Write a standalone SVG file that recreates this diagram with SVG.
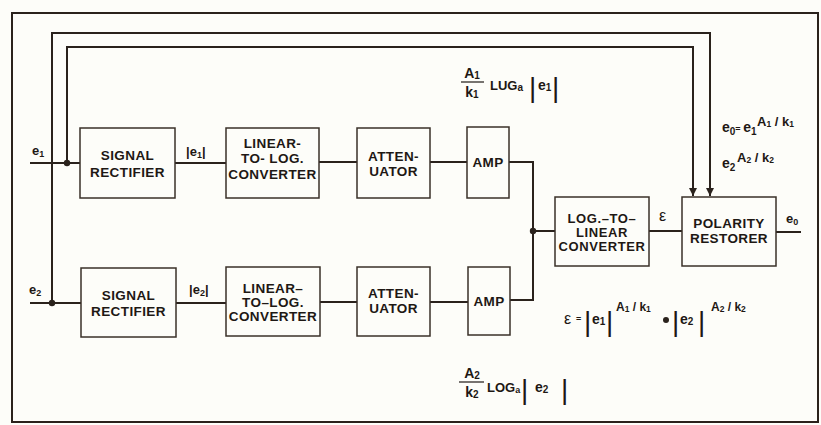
<svg xmlns="http://www.w3.org/2000/svg" width="821" height="425" viewBox="0 0 821 425">
<defs>
<style>
.bg{fill:#fdfdf9}
.frame{fill:none;stroke:#2a221c;stroke-width:2}
.box{fill:#fdfdf9;stroke:#3a3028;stroke-width:1.5}
.wire{fill:none;stroke:#2a221c;stroke-width:2}
.t{font-family:"Liberation Sans",Arial,sans-serif;font-weight:bold;font-size:13.5px;letter-spacing:0.4px;fill:#1e1814;text-anchor:middle}
.l{font-family:"Liberation Sans",Arial,sans-serif;font-weight:bold;font-size:13px;fill:#1e1814}
.s{font-size:9px}
.f{font-family:"Liberation Sans",Arial,sans-serif;font-weight:bold;font-size:14px;fill:#1e1814}
.fs{font-size:10px}
.sup{font-family:"Liberation Sans",Arial,sans-serif;font-weight:bold;font-size:12px;fill:#1e1814}
.ss{font-size:8.5px}
.bar{font-family:"Liberation Sans",Arial,sans-serif;font-weight:normal;font-size:28px;fill:#1e1814}
.dot{fill:#2a221c}
</style>
<marker id="arr" viewBox="0 0 10 10" refX="10" refY="5" markerWidth="8" markerHeight="8" markerUnits="userSpaceOnUse" orient="auto">
<path d="M0,0 L10,5 L0,10 Z" fill="#2a221c"/>
</marker>
</defs>
<rect class="bg" x="0" y="0" width="821" height="425"/>
<rect class="frame" x="12" y="13" width="806" height="409"/>

<g id="connectors">
<path class="wire" d="M30,163 H80"/>
<path class="wire" d="M67,163 V47 H693 V196" marker-end="url(#arr)"/>
<path class="wire" d="M30,303 H81"/>
<path class="wire" d="M52,303 V33 H710 V196" marker-end="url(#arr)"/>
<path class="wire" d="M175,163 H226"/>
<path class="wire" d="M319,162 H357"/>
<path class="wire" d="M430,162 H467"/>
<path class="wire" d="M176,303 H226"/>
<path class="wire" d="M320,302 H357"/>
<path class="wire" d="M430,302 H468"/>
<path class="wire" d="M509,162 H533 V300 H510"/>
<path class="wire" d="M533,231 H555"/>
<path class="wire" d="M649,231 H682"/>
<path class="wire" d="M776,232 H801"/>
<circle class="dot" cx="67" cy="163" r="3.2"/>
<circle class="dot" cx="52" cy="303" r="3.2"/>
<circle class="dot" cx="533" cy="231" r="3.2"/>
</g>

<g id="rect1">
<rect class="box" x="80" y="128" width="95" height="70"/>
<text class="t" x="127.5" y="160">SIGNAL</text>
<text class="t" x="127.5" y="177">RECTIFIER</text>
</g>
<g id="lin2log1">
<rect class="box" x="226" y="128" width="93" height="70"/>
<text class="t" x="272.5" y="148">LINEAR-</text>
<text class="t" x="272.5" y="163">TO- LOG.</text>
<text class="t" x="272.5" y="179">CONVERTER</text>
</g>
<g id="atten1">
<rect class="box" x="357" y="128" width="73" height="70"/>
<text class="t" x="393.5" y="161">ATTEN-</text>
<text class="t" x="393.5" y="176">UATOR</text>
</g>
<g id="amp1">
<rect class="box" x="467" y="127" width="42" height="71"/>
<text class="t" x="488" y="167">AMP</text>
</g>

<g id="rect2">
<rect class="box" x="81" y="268" width="95" height="69"/>
<text class="t" x="128.5" y="300">SIGNAL</text>
<text class="t" x="128.5" y="316">RECTIFIER</text>
</g>
<g id="lin2log2">
<rect class="box" x="226" y="267" width="94" height="69"/>
<text class="t" x="273" y="293">LINEAR–</text>
<text class="t" x="273" y="307">TO–LOG.</text>
<text class="t" x="273" y="321">CONVERTER</text>
</g>
<g id="atten2">
<rect class="box" x="357" y="267" width="73" height="69"/>
<text class="t" x="393.5" y="298">ATTEN-</text>
<text class="t" x="393.5" y="313">UATOR</text>
</g>
<g id="amp2">
<rect class="box" x="468" y="267" width="42" height="68"/>
<text class="t" x="489" y="306">AMP</text>
</g>

<g id="log2lin">
<rect class="box" x="555" y="197" width="94" height="69"/>
<text class="t" x="602" y="223" style="font-size:13px;letter-spacing:0.6px">LOG.–TO–</text>
<text class="t" x="602" y="237" style="font-size:13px;letter-spacing:0.6px">LINEAR</text>
<text class="t" x="602" y="251" style="font-size:13px;letter-spacing:0.6px">CONVERTER</text>
</g>
<g id="polarity">
<rect class="box" x="682" y="197" width="94" height="69"/>
<text class="t" x="729" y="228">POLARITY</text>
<text class="t" x="729" y="243">RESTORER</text>
</g>

<g id="labels">
<text class="l" x="32" y="155">e<tspan class="s" dy="2">1</tspan></text>
<text class="l" x="29" y="294">e<tspan class="s" dy="2">2</tspan></text>
<text class="l" x="186" y="156">|e<tspan class="s" dy="2">1</tspan><tspan dy="-2">|</tspan></text>
<text class="l" x="189" y="294">|e<tspan class="s" dy="2">2</tspan><tspan dy="-2">|</tspan></text>
<text class="l" x="659" y="221" style="font-size:16px;font-weight:normal">ε</text>
<text class="l" x="786" y="223">e<tspan class="s" dy="2">0</tspan></text>

<text class="f" x="472" y="78" text-anchor="middle">A<tspan class="fs" dy="1">1</tspan></text>
<line x1="461" y1="82" x2="484" y2="82" stroke="#1e1814" stroke-width="1.2"/>
<text class="f" x="472" y="97" text-anchor="middle">k<tspan class="fs" dy="1">1</tspan></text>
<text class="f" x="490" y="90" style="font-size:13px">LUG<tspan class="fs" dy="1">a</tspan></text>
<text class="bar" x="529" y="97">|</text>
<text class="f" x="538" y="90">e<tspan class="fs" dy="1">1</tspan></text>
<text class="bar" x="552" y="97">|</text>

<text class="f" x="472" y="378" text-anchor="middle">A<tspan class="fs" dy="1">2</tspan></text>
<line x1="459" y1="382" x2="484" y2="382" stroke="#1e1814" stroke-width="1.2"/>
<text class="f" x="472" y="397" text-anchor="middle">k<tspan class="fs" dy="1">2</tspan></text>
<text class="f" x="487" y="392" style="font-size:13px">LOG<tspan class="fs" dy="1" style="font-size:9px">a</tspan></text>
<text class="bar" x="521" y="399">|</text>
<text class="f" x="535" y="392">e<tspan class="fs" dy="1">2</tspan></text>
<text class="bar" x="561" y="399">|</text>

<text class="f" x="564" y="324" style="font-size:16px;font-weight:normal">ε</text>
<text class="f" x="576" y="322" style="font-size:9px">=</text>
<text class="bar" x="584" y="331">|</text>
<text class="f" x="592" y="324">e<tspan class="fs" dy="1">1</tspan></text>
<text class="bar" x="606" y="331">|</text>
<text class="sup" x="616" y="311">A<tspan class="ss" dy="1">1</tspan><tspan dy="-1"> / k</tspan><tspan class="ss" dy="1">1</tspan></text>
<circle class="dot" cx="666" cy="320" r="3"/>
<text class="bar" x="672" y="331">|</text>
<text class="f" x="680" y="324">e<tspan class="fs" dy="1">2</tspan></text>
<text class="bar" x="698" y="331">|</text>
<text class="sup" x="711" y="311">A<tspan class="ss" dy="1">2</tspan><tspan dy="-1"> / k</tspan><tspan class="ss" dy="1">2</tspan></text>

<text class="f" x="722" y="132">e<tspan class="fs" dy="3">0</tspan><tspan dy="-3" style="font-size:9px">= </tspan>e<tspan class="fs" dy="3">1</tspan></text>
<text class="sup" x="757" y="126" style="font-size:13px">A<tspan class="ss" dy="1">1</tspan><tspan dy="-1"> / k</tspan><tspan class="ss" dy="1">1</tspan></text>
<text class="f" x="722" y="168">e<tspan class="fs" dy="3">2</tspan></text>
<text class="sup" x="737" y="162" style="font-size:13px">A<tspan class="ss" dy="1">2</tspan><tspan dy="-1"> / k</tspan><tspan class="ss" dy="1">2</tspan></text>
</g>
</svg>
